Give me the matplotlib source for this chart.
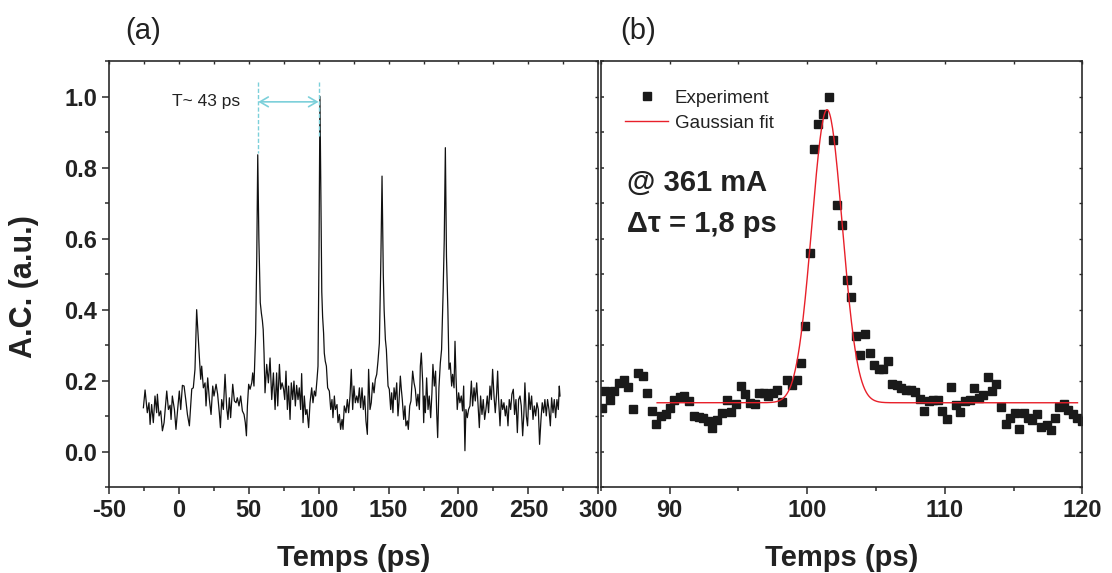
import numpy as np
import matplotlib
matplotlib.use("Agg")
import matplotlib.pyplot as plt
from matplotlib.ticker import MultipleLocator

plt.rcParams['font.family'] = ['Liberation Sans', 'DejaVu Sans']

# ---------------- data: panel (a) autocorrelation trace ----------------
trace_t = [
    -25.4, -24.2, -22.6, -21.4, -20.6, -19.5, -18.3, -17.1, -15.9, -15.4, -14.2, -13.0, -11.8, -10.6,
    -8.7, -7.5, -6.3, -5.6, -4.7, -3.2, -2.1, -0.9, 0.3, 1.3, 2.5, 3.7, 4.9, 6.1, 7.5, 9.2, 10.3,
    11.5, 12.7, 13.9, 14.6, 15.6, 16.3, 17.5, 18.7, 19.4, 20.6, 21.8, 23.0, 24.2, 25.1, 26.6, 27.7,
    28.9, 29.7, 30.6, 31.8, 33.0, 34.2, 35.1, 36.1, 37.0, 38.5, 39.7, 40.9, 41.8, 43.0, 44.2, 45.4,
    46.6, 47.5, 48.3, 49.0, 49.9, 50.9, 52.1, 52.8, 53.7, 54.9, 55.7, 56.4, 57.2, 58.2, 59.0, 59.7,
    60.3, 60.9, 61.6, 62.8, 64.0, 65.2, 66.4, 67.6, 68.8, 69.9, 70.7, 71.9, 72.8, 73.8, 74.9, 75.7,
    76.6, 77.6, 78.5, 79.5, 80.4, 81.4, 82.3, 83.3, 84.2, 85.2, 86.1, 87.1, 87.8, 88.8, 89.7, 90.7,
    91.6, 92.8, 93.8, 95.0, 95.9, 96.9, 97.8, 98.8, 99.5, 100.2, 100.9, 101.6, 102.2, 102.8, 103.5,
    104.0, 104.7, 105.5, 106.4, 107.6, 108.6, 109.5, 110.2, 111.2, 111.9, 113.1, 113.8, 114.8, 115.7,
    116.7, 117.4, 118.3, 119.5, 120.5, 121.4, 122.4, 123.3, 124.3, 125.2, 126.2, 127.2, 128.1, 129.1,
    130.0, 131.0, 131.9, 132.9, 133.8, 134.8, 135.7, 136.7, 137.6, 138.6, 139.6, 140.5, 141.5, 142.4,
    143.4, 144.5, 145.3, 146.2, 146.8, 147.7, 148.4, 149.6, 150.5, 151.5, 152.2, 153.1, 153.9, 154.8,
    155.8, 156.7, 157.4, 158.4, 159.1, 159.8, 160.8, 161.7, 162.4, 163.4, 164.1, 165.1, 166.0, 167.2,
    168.2, 169.1, 170.1, 171.0, 172.0, 172.7, 173.4, 174.4, 175.1, 175.6, 176.3, 177.2, 178.2, 179.1,
    180.1, 181.0, 181.7, 182.7, 183.6, 184.4, 185.1, 186.0, 187.0, 187.9, 189.0, 189.8, 190.6, 191.4,
    192.4, 193.2, 194.1, 195.1, 195.8, 196.8, 197.5, 198.2, 199.1, 200.1, 201.0, 202.0, 202.9, 203.7,
    204.6, 205.3, 206.3, 207.2, 208.2, 209.2, 210.1, 211.1, 212.0, 213.0, 213.9, 214.9, 215.8, 216.8,
    217.7, 218.7, 219.6, 220.6, 221.5, 222.5, 223.5, 224.4, 225.4, 226.3, 227.3, 228.0, 228.7, 229.7,
    230.6, 231.6, 232.5, 233.5, 234.4, 235.4, 236.3, 237.3, 238.2, 239.2, 240.1, 241.1, 242.1, 243.0,
    244.0, 244.9, 245.9, 246.8, 247.5, 248.5, 249.4, 250.4, 251.3, 252.3, 253.3, 254.2, 255.2, 256.1,
    257.1, 258.0, 259.0, 259.9, 260.9, 261.8, 262.8, 263.7, 264.7, 265.7, 266.6, 267.6, 268.5, 269.5,
    270.4, 271.4, 272.1, 272.6,
]
trace_ac = [
    .124, .174, .110, .138, .077, .133, .082, .157, .110, .162, .101, .115, .059, .082,
    .171, .119, .131, .091, .157, .119, .063, .119, .171, .119, .187, .185, .147, .105, .073, .177, .180,
    .232, .400, .316, .269, .204, .241, .180, .194, .129, .208, .147, .105, .185, .157, .190, .162,
    .110, .068, .147, .119, .218, .124, .091, .152, .096, .190, .143, .138, .152, .129, .157, .115,
    .105, .082, .045, .129, .190, .176, .194, .222, .185, .334, .55, .836, .60, .42, .39, .37,
    .344, .278, .166, .246, .194, .264, .147, .222, .119, .222, .129, .246, .176, .194, .176, .147,
    .227, .119, .185, .091, .194, .147, .199, .129, .187, .147, .180, .119, .220, .082, .157, .105,
    .119, .068, .138, .180, .138, .171, .157, .204, .241, .55, 1.0, .70, .45, .38, .334,
    .278, .255, .241, .180, .171, .119, .147, .096, .157, .119, .133, .082, .105, .063,
    .091, .063, .129, .110, .147, .110, .157, .232, .119, .185, .138, .157, .138, .180,
    .124, .180, .119, .157, .087, .049, .232, .119, .138, .194, .166, .204, .218, .255,
    .306, .55, .776, .50, .40, .316, .288, .185, .176, .119, .166, .110, .180, .147,
    .194, .101, .138, .213, .176, .147, .091, .129, .073, .087, .063, .129, .143, .227,
    .194, .176, .129, .162, .119, .241, .278, .194, .082, .157, .110, .208, .119, .157,
    .096, .166, .246, .185, .227, .110, .040, .180, .250, .288, .45, .595, .856, .55,
    .40, .232, .250, .185, .218, .180, .311, .213, .119, .166, .138, .157, .115, .185,
    .003, .119, .096, .119, .129, .199, .129, .180, .143, .194, .138, .068, .157, .105,
    .147, .091, .119, .157, .110, .185, .147, .232, .157, .110, .166, .227, .147, .073,
    .147, .119, .138, .101, .129, .073, .147, .119, .162, .176, .105, .147, .054, .147,
    .157, .129, .045, .110, .194, .101, .073, .166, .119, .157, .091, .129, .101, .138,
    .119, .021, .091, .138, .110, .147, .101, .147, .119, .073, .152, .110, .147, .096,
    .147, .119, .185, .157,
]

# ---------------- data: panel (b) zoom on one pulse ----------------
exp_t = [
    85.08, 85.32, 85.64, 85.95, 86.31, 86.68, 86.97, 87.36, 87.70, 88.06, 88.38, 88.74, 89.05, 89.40,
    89.76, 90.07, 90.36, 90.73, 91.09, 91.45, 91.77, 92.11, 92.45, 92.79, 93.10, 93.47, 93.83, 94.17,
    94.49, 94.85, 95.16, 95.50, 95.84, 96.18, 96.47, 96.84, 97.15, 97.51, 97.83, 98.20, 98.51, 98.90,
    99.24, 99.53, 99.87, 100.20, 100.52, 100.81, 101.18, 101.56, 101.85, 102.20, 102.51, 102.90,
    103.21, 103.53, 103.87, 104.18, 104.55, 104.86, 105.20, 105.51, 105.85, 106.20, 106.53, 106.85,
    107.22, 107.53, 107.87, 108.18, 108.50, 108.84, 109.18, 109.51, 109.83, 110.15, 110.49, 110.82,
    111.14, 111.45, 111.82, 112.11, 112.47, 112.79, 113.15, 113.44, 113.76, 114.07, 114.42, 114.73,
    115.09, 115.38, 115.75, 116.06, 116.38, 116.74, 117.03, 117.40, 117.71, 118.00, 118.31, 118.65,
    118.97, 119.33, 119.65, 119.98,
]
exp_ac = [
    0.124, 0.171, 0.145, 0.171, 0.194, 0.201, 0.182, 0.121, 0.222, 0.213, 0.166, 0.116, 0.079, 0.102,
    0.105, 0.123, 0.145, 0.155, 0.157, 0.143, 0.100, 0.098, 0.094, 0.086, 0.068, 0.089, 0.110, 0.147,
    0.112, 0.135, 0.185, 0.163, 0.138, 0.135, 0.166, 0.166, 0.158, 0.166, 0.175, 0.140, 0.203, 0.189,
    0.201, 0.250, 0.353, 0.560, 0.853, 0.923, 0.950, 1.000, 0.878, 0.696, 0.638, 0.484,
    0.437, 0.325, 0.273, 0.331, 0.278, 0.245, 0.233, 0.233, 0.255, 0.192, 0.187, 0.180,
    0.175, 0.175, 0.168, 0.149, 0.116, 0.143, 0.145, 0.145, 0.114, 0.091, 0.183, 0.133,
    0.112, 0.143, 0.147, 0.180, 0.152, 0.161, 0.211, 0.171, 0.192, 0.126, 0.079, 0.096,
    0.108, 0.065, 0.108, 0.096, 0.089, 0.105, 0.071, 0.074, 0.061, 0.096, 0.126, 0.135,
    0.119, 0.105, 0.096, 0.086,
]

# Gaussian fit parameters
fit_y0 = 0.138
fit_amp = 0.825
fit_xc = 101.45
fit_fwhm = 2.6
fit_range = (89.1, 119.65)

period_label = "T~ 43 ps"
period_start, period_end = 56.8, 99.9

# ---------------- figure ----------------
W, H = 1112, 573
fig = plt.figure(figsize=(W / 100, H / 100), dpi=100)

def frac(x0, x1, ytop, ybot):
    return [x0 / W, 1 - ybot / H, (x1 - x0) / W, (ybot - ytop) / H]

axA = fig.add_axes(frac(109, 598.3, 61, 487.3))
axB = fig.add_axes(frac(600.7, 1082.3, 61, 487.3))

spine_col = '#2a2a2a'
tick_fs = 17
label_fs = 21

for ax in (axA, axB):
    for s in ax.spines.values():
        s.set_color(spine_col)
        s.set_linewidth(1.2)
    ax.set_ylim(-0.1, 1.1)
    ax.yaxis.set_major_locator(MultipleLocator(0.2))
    ax.yaxis.set_minor_locator(MultipleLocator(0.1))
    ax.tick_params(which='both', direction='out', colors=spine_col, width=1.1,
                   top=False, right=False, labelcolor='#222222')
    ax.tick_params(which='major', length=5, labelsize=tick_fs, pad=3.5)
    ax.tick_params(which='minor', length=3)
    # inward short ticks on top/right
    sx = ax.secondary_xaxis('top')
    sy = ax.secondary_yaxis('right')
    for sa in (sx, sy):
        sa.tick_params(which='both', direction='in', length=2, width=1.0, colors=spine_col,
                       labeltop=False, labelright=False, labelbottom=False, labelleft=False)
        for s in sa.spines.values():
            s.set_visible(False)

# ---- panel (a)
axA.plot(trace_t, trace_ac, color='#111111', lw=0.9)
axA.set_xlim(-50, 300)
sxA, syA = axA.child_axes[0], axA.child_axes[1]
sxA.xaxis.set_major_locator(MultipleLocator(50))
sxA.xaxis.set_minor_locator(MultipleLocator(25))
syA.yaxis.set_major_locator(MultipleLocator(0.2))
syA.yaxis.set_minor_locator(MultipleLocator(0.1))
axA.set_yticks([0.0, 0.2, 0.4, 0.6, 0.8, 1.0])
axA.set_yticklabels(['0.0', '0.2', '0.4', '0.6', '0.8', '1.0'], fontweight='bold')
axA.yaxis.set_minor_locator(MultipleLocator(0.1))
axA.set_xticks([-50, 0, 50, 100, 150, 200, 250, 300])
axA.set_xticklabels(['-50', '0', '50', '100', '150', '200', '250', '300'], fontweight='bold')
axA.xaxis.set_minor_locator(MultipleLocator(25))
axA.set_xlabel('Temps (ps)', fontsize=label_fs, fontweight='bold', color='#222222')
axA.xaxis.set_label_coords(0.5, -0.132)
axA.set_ylabel('A.C. (a.u.)', fontsize=22, fontweight='bold', color='#222222')
axA.yaxis.set_label_coords(-0.143, 0.47)

cyan = '#7cd0da'
axA.plot([period_start, period_start], [1.04, 0.84], color=cyan, lw=1.0, ls=(0, (3, 1.5)))
axA.plot([period_end, period_end], [1.04, 0.89], color=cyan, lw=1.0, ls=(0, (3, 1.5)))
axA.annotate('', xy=(period_start, 0.985), xytext=(period_end, 0.985),
             arrowprops=dict(arrowstyle='<->,head_length=0.6,head_width=0.35', color=cyan,
                             lw=1.2, shrinkA=0, shrinkB=0))
axA.text(period_start - 13, 0.985, period_label, fontsize=12.5, ha='right', va='center',
         color='#222222')

# ---- panel (b)
axB.plot(exp_t, exp_ac, ls='none', marker='s', ms=5.3, color='#1a1a1a', label='Experiment')
xf = np.linspace(fit_range[0], fit_range[1], 600)
yf = fit_y0 + fit_amp * np.exp(-4 * np.log(2) * (xf - fit_xc) ** 2 / fit_fwhm ** 2)
axB.plot(xf, yf, color='#e8202a', lw=1.0, label='Gaussian fit')
axB.set_xlim(85, 120)
sxB, syB = axB.child_axes[0], axB.child_axes[1]
sxB.xaxis.set_major_locator(MultipleLocator(10))
sxB.xaxis.set_minor_locator(MultipleLocator(5))
syB.yaxis.set_major_locator(MultipleLocator(0.2))
syB.yaxis.set_minor_locator(MultipleLocator(0.1))
axB.tick_params(axis='y', which='both', direction='in', length=2, labelleft=False)
axB.set_xticks([90, 100, 110, 120])
axB.set_xticklabels(['90', '100', '110', '120'], fontweight='bold')
axB.xaxis.set_minor_locator(MultipleLocator(5))
axB.set_xlabel('Temps (ps)', fontsize=label_fs, fontweight='bold', color='#222222')
axB.xaxis.set_label_coords(0.5, -0.132)

leg = axB.legend(loc='upper left', bbox_to_anchor=(0.035, 0.95), frameon=False, fontsize=13.5,
                 handlelength=2.3, handletextpad=0.35, labelspacing=0.4, borderaxespad=0.0)
for t in leg.get_texts():
    t.set_color('#222222')
axB.text(86.9, 0.756, '@ 361 mA', fontsize=21, fontweight='bold', ha='left', va='center',
         color='#222222')
axB.text(86.9, 0.641, 'Δτ = 1,8 ps', fontsize=21, fontweight='bold', ha='left', va='center',
         color='#222222')

# panel letters
fig.text(143 / W, 1 - 31 / H, '(a)', fontsize=21, ha='center', va='center', color='#222222')
fig.text(638 / W, 1 - 31 / H, '(b)', fontsize=21, ha='center', va='center', color='#222222')

fig.savefig('out.png', dpi=100)
